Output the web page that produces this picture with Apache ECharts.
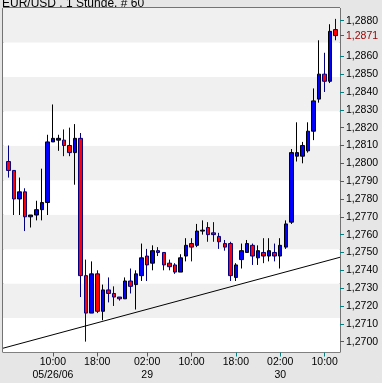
<!DOCTYPE html>
<html><head><meta charset="utf-8">
<script src="https://cdn.jsdelivr.net/npm/echarts@6/dist/echarts.min.js"></script>
<style>html,body{margin:0;padding:0;background:#e6e6e6;}#c{width:382px;height:383px;}</style>
</head><body><div id="c"></div>
<script>
const chartTitle = 'EUR/USD . 1 Stunde. # 60';
const times = ['05/26 02:00','05/26 03:00','05/26 04:00','05/26 05:00','05/26 06:00','05/26 07:00','05/26 08:00','05/26 09:00','05/26 10:00','05/26 11:00',
'05/26 12:00','05/26 13:00','05/26 14:00','05/26 15:00','05/26 16:00','05/26 17:00','05/26 18:00','05/26 19:00','05/26 20:00','05/26 21:00',
'05/26 22:00','05/28 22:00','05/28 23:00','05/29 00:00','05/29 01:00','05/29 02:00','05/29 03:00','05/29 04:00','05/29 05:00','05/29 06:00',
'05/29 07:00','05/29 08:00','05/29 09:00','05/29 10:00','05/29 11:00','05/29 12:00','05/29 13:00','05/29 14:00','05/29 15:00','05/29 16:00',
'05/29 17:00','05/29 18:00','05/29 19:00','05/29 20:00','05/29 21:00','05/29 22:00','05/29 23:00','05/30 00:00','05/30 01:00','05/30 02:00',
'05/30 03:00','05/30 04:00','05/30 05:00','05/30 06:00','05/30 07:00','05/30 08:00','05/30 09:00','05/30 10:00','05/30 11:00','05/30 12:00'];
const opens = [1.2801,1.2796,1.2780,1.2784,1.2770,1.2771,1.2774,1.2778,1.2812,1.2813,
1.2813,1.2810,1.2806,1.2814,1.2737,1.2716,1.2738,1.2717,1.2729,1.2727,
1.2725,1.2724,1.2734,1.2732,1.2737,1.2748,1.2744,1.2751,1.2750,1.2744,
1.2743,1.2739,1.2748,1.2755,1.2754,1.2762,1.2764,1.2761,1.2759,1.2755,
1.2755,1.2736,1.2746,1.2750,1.2754,1.2747,1.2750,1.2748,1.2750,1.2748,
1.2753,1.2767,1.2804,1.2804,1.2807,1.2818,1.2836,1.2850,1.2846,1.2875];
const closes = [1.2796,1.2780,1.2784,1.2770,1.2771,1.2774,1.2778,1.2812,1.2814,1.2814,
1.2810,1.2806,1.2814,1.2737,1.2716,1.2738,1.2717,1.2729,1.2727,1.2725,
1.2724,1.2734,1.2731,1.2738,1.2747,1.2743,1.2751,1.2750,1.2743,1.2742,
1.2739,1.2747,1.2754,1.2753,1.2762,1.27625,1.2760,1.2760,1.2756,1.2753,
1.2737,1.2743,1.2751,1.2755,1.2748,1.2751,1.2748,1.2751,1.2748,1.2754,
1.2766,1.2806,1.2806,1.2810,1.2818,1.2835,1.2850,1.2846,1.2874,1.28716];
const lows = [1.2792,1.2771,1.2771,1.2762,1.2764,1.2768,1.2768,1.2771,1.2812,1.2807,
1.2804,1.2804,1.2788,1.2725,1.2700,1.2716,1.2716,1.2712,1.2722,1.2720,
1.2723,1.2724,1.2727,1.2718,1.2734,1.2734,1.2740,1.2748,1.2740,1.2740,
1.2738,1.2739,1.2745,1.2745,1.2753,1.2760,1.2756,1.2756,1.2752,1.2751,
1.2734,1.2734,1.2741,1.2750,1.2743,1.2743,1.2744,1.2745,1.2745,1.2741,
1.2752,1.2766,1.2801,1.2800,1.2806,1.2813,1.2834,1.2840,1.2845,1.2869];
const highs = [1.2810,1.2796,1.2792,1.2786,1.2771,1.2779,1.2797,1.2816,1.2833,1.2816,
1.2819,1.2820,1.2822,1.2817,1.2746,1.2745,1.2740,1.2732,1.2736,1.2731,
1.2725,1.2736,1.2741,1.2740,1.2755,1.2752,1.2754,1.2753,1.2750,1.2746,
1.2744,1.2749,1.2758,1.2758,1.2766,1.2768,1.2767,1.2767,1.2761,1.2757,
1.2756,1.2744,1.2755,1.2757,1.2755,1.2754,1.2758,1.2758,1.2755,1.2758,
1.2768,1.2808,1.2823,1.2812,1.2823,1.2842,1.2869,1.2862,1.2878,1.2881];
const xTickIndex = [8,16,25,33,41,49,57];
const xTickLabels = ['10:00\n05/26/06','18:00','02:00\n29','10:00','18:00','02:00\n30','10:00'];
const yTickValues = [1.2700,1.2710,1.2720,1.2730,1.2740,1.2750,1.2760,1.2770,1.2780,1.2790,1.2800,1.2810,1.2820,1.2830,1.2840,1.2850,1.2860,1.2880];
const trendX = [-1, 59.78];
const trendY = [1.26963, 1.27473];
const yMin = 1.26939, yMax = 1.28871;
const xMin = -1, xMax = 59.78;
const lastPrice = closes[closes.length - 1];

const FONT = 'Liberation Sans, Arial, sans-serif';
const fmt = v => v.toFixed(4).replace('.', ',');
const fmtTrunc = v => (Math.floor(v * 10000 + 1e-6) / 10000).toFixed(4).replace('.', ',');
const candleData = times.map((t, i) => [i, opens[i], closes[i], lows[i], highs[i]]);
const yLabelValues = yTickValues.concat([lastPrice]);

const chart = echarts.init(document.getElementById('c'), null, {renderer: 'canvas'});
chart.setOption({
  animation: false,
  backgroundColor: '#e6e6e6',
  title: {text: chartTitle, left: 2, top: -2, padding: 0,
    textStyle: {fontSize: 12, fontWeight: 'normal', color: '#000', fontFamily: FONT}},
  grid: {left: 3, top: 8, width: 337, height: 344.5, show: true,
    borderColor: '#000', borderWidth: 1, backgroundColor: '#ffffff'},
  xAxis: {type: 'value', min: xMin, max: xMax,
    axisLine: {show: false, onZero: false},
    splitLine: {show: false},
    axisTick: {show: true, customValues: xTickIndex, length: 4, lineStyle: {color: '#008080', width: 1}},
    axisLabel: {customValues: xTickIndex, margin: 3, lineHeight: 13, fontSize: 10.5, color: '#000', fontFamily: FONT,
      formatter: v => xTickLabels[xTickIndex.indexOf(Math.round(v))] || ''}},
  yAxis: [
    {type: 'value', position: 'right', min: yMin, max: yMax, scale: true,
      axisLine: {show: false, onZero: false}, splitLine: {show: false},
      axisTick: {show: true, customValues: yLabelValues, length: 4, lineStyle: {color: '#008080', width: 1}},
      axisLabel: {customValues: yLabelValues, margin: 6, fontSize: 10.5, color: '#000', fontFamily: FONT,
        formatter: v => Math.abs(v - lastPrice) < 1e-7 ? '{r|' + fmtTrunc(v) + '}' : fmt(v),
        rich: {r: {color: '#990000', fontSize: 10.5, fontFamily: FONT}}}},
    {type: 'value', position: 'left', min: 0, max: 10, interval: 1,
      axisLine: {show: false, onZero: false}, axisTick: {show: false}, axisLabel: {show: false},
      splitLine: {show: false},
      splitArea: {show: true, areaStyle: {color: ['#ffffff', '#f0f0f0']}}}
  ],
  series: [
    {type: 'candlestick', name: 'EUR/USD', xAxisIndex: 0, yAxisIndex: 0,
      data: candleData, encode: {x: 0, y: [1, 2, 3, 4]}, barWidth: 4,
      itemStyle: {color: '#0000ff', color0: '#ff0000', borderColor: '#000000', borderColor0: '#000080', borderWidth: 1},
      markLine: {symbol: 'none', silent: true, label: {show: false},
        lineStyle: {color: '#8b0000', type: [4, 3], width: 1},
        data: [{yAxis: lastPrice}]}},
    {type: 'line', name: 'Trend', xAxisIndex: 0, yAxisIndex: 0,
      data: trendX.map((x, i) => [x, trendY[i]]), symbol: 'none', silent: true,
      lineStyle: {color: '#000', width: 1}}
  ]
});
</script></body></html>
